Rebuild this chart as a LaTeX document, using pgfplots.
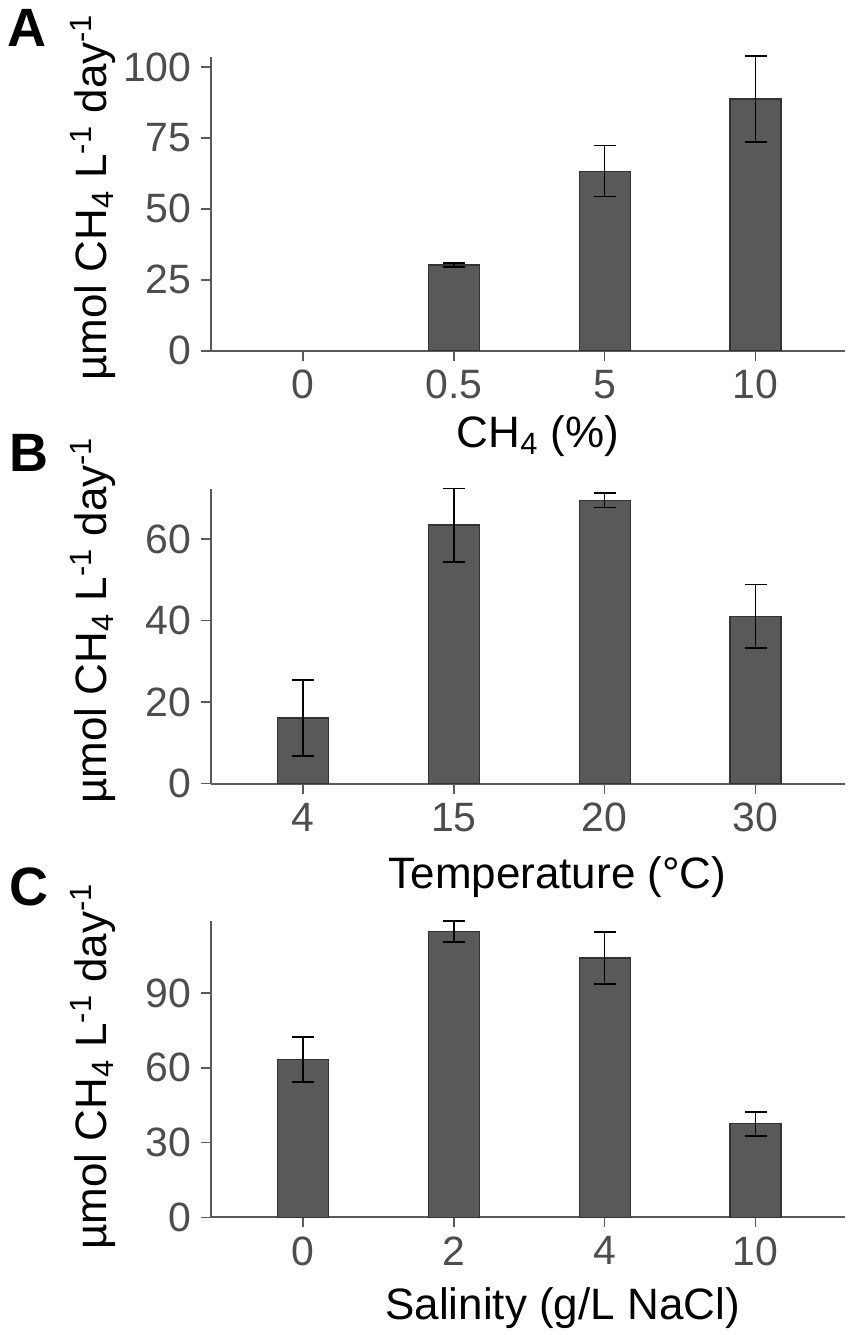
\documentclass[border=0pt]{standalone}
\usepackage{pgfplots}
\pgfplotsset{compat=1.18}
\usepackage{fontspec}
\setmainfont{Liberation Sans}
\definecolor{barfill}{HTML}{595959}
\definecolor{baredge}{HTML}{333333}
\definecolor{axgray}{HTML}{5A5A5A}
\definecolor{tickgray}{HTML}{4D4D4D}
\pgfplotsset{
  panel/.style={
    scale only axis, width=317pt,
    axis lines=left,
    axis line style={-, axgray, line width=1pt},
    xmin=-0.61, xmax=3.59, ymin=0,
    xtick={0,1,2,3},
    tick align=outside, major tick length=5pt,
    tick style={axgray, line width=0.8pt},
    ticklabel style={font=\fontsize{20.5}{24}\selectfont, text=tickgray},
    /pgf/number format/assume math mode=true,
    yticklabel style={anchor=east, inner sep=0pt, xshift=-4.5pt},
    xticklabel style={anchor=north, inner sep=0pt, yshift=-4.5pt},
    label style={font=\fontsize{22}{26}\selectfont, text=black},
    ylabel={µmol CH\textsubscript{4} L\textsuperscript{-1} day\textsuperscript{-1}},
    clip=false,
  },
  barsty/.style={
    ybar, bar width=25.5pt, fill=barfill, draw=baredge, line width=0.6pt,
    error bars/.cd, y dir=both, y explicit,
    error bar style={black, line width=0.8pt},
    error mark options={rotate=90, mark size=5.5pt, black, line width=0.8pt},
  },
}
\begin{document}
\begin{tikzpicture}
\path (0,0) rectangle (425.5pt,-667.5pt);
% Panel A
\begin{axis}[panel, at={(105.5pt,-175.5pt)}, anchor=south west,
  height=147pt, ymax=103.5, ytick={0,25,50,75,100},
  xticklabels={0,0.5,5,10},
  xlabel={CH\textsubscript{4} (\%)},
  xlabel style={at={(axis description cs:0.516,-0.33)}, anchor=base},
  ylabel style={at={(axis description cs:-0.164,0.522)}, anchor=base},
]
\addplot[barsty] coordinates {(1,30.2) +- (0,0.7) (2,63.3) +- (0,9.0) (3,88.7) +- (0,15.1)};
\end{axis}
% Panel B
\begin{axis}[panel, at={(105.5pt,-392pt)}, anchor=south west,
  height=147.5pt, ymax=72.3, ytick={0,20,40,60},
  xticklabels={4,15,20,30},
  xlabel={Temperature (°C)},
  xlabel style={at={(axis description cs:0.547,-0.356)}, anchor=base},
  ylabel style={at={(axis description cs:-0.164,0.554)}, anchor=base},
]
\addplot[barsty] coordinates {(0,16.1) +- (0,9.3) (1,63.4) +- (0,9.0) (2,69.5) +- (0,1.75) (3,41.0) +- (0,7.8)};
\end{axis}
% Panel C
\begin{axis}[panel, at={(105.5pt,-609pt)}, anchor=south west,
  height=148.5pt, ymax=119, ytick={0,30,60,90},
  xticklabels={0,2,4,10},
  xlabel={Salinity (g/L NaCl)},
  xlabel style={at={(axis description cs:0.555,-0.343)}, anchor=base},
  ylabel style={at={(axis description cs:-0.164,0.508)}, anchor=base},
]
\addplot[barsty] coordinates {(0,63.4) +- (0,9.0) (1,114.6) +- (0,4.2) (2,104.0) +- (0,10.4) (3,37.5) +- (0,4.8)};
\end{axis}
\node[anchor=base west, inner sep=0pt, font=\fontsize{27}{30}\selectfont\bfseries] at (3.5pt,-23.5pt) {A};
\node[anchor=base west, inner sep=0pt, font=\fontsize{27}{30}\selectfont\bfseries] at (4.5pt,-236pt) {B};
\node[anchor=base west, inner sep=0pt, font=\fontsize{27}{30}\selectfont\bfseries] at (4.5pt,-453pt) {C};
\end{tikzpicture}
\end{document}
